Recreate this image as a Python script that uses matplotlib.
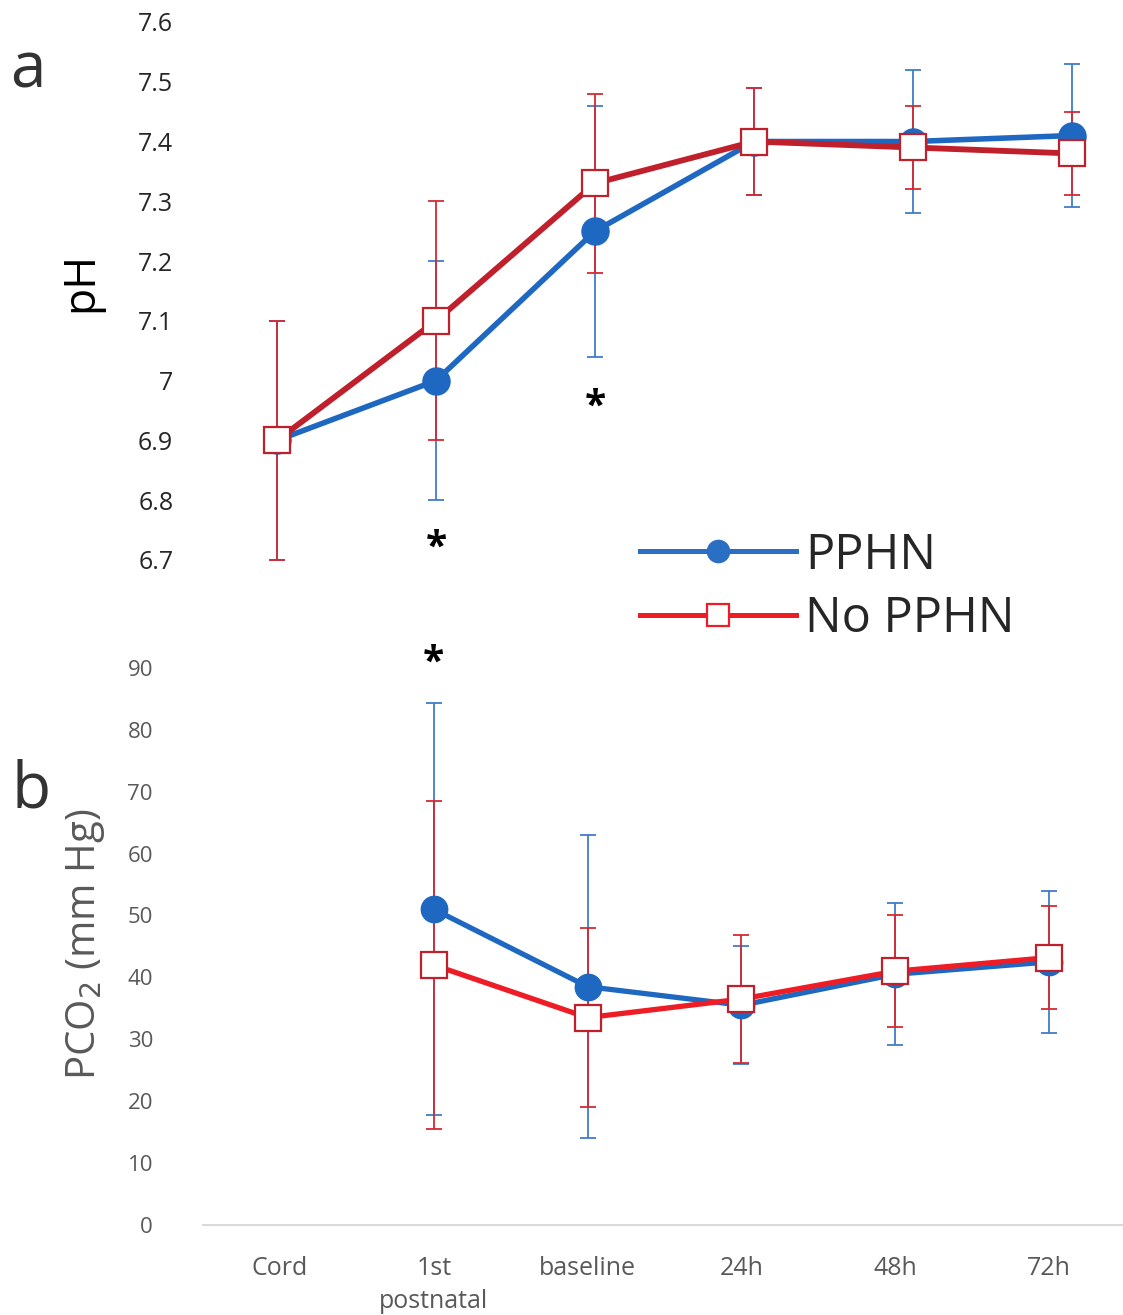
import matplotlib
matplotlib.use("Agg")
import matplotlib.pyplot as plt
from matplotlib.lines import Line2D

plt.rcParams['font.family'] = ['Open Sans', 'DejaVu Sans']

nan = float('nan')

times = ['Cord', '1st\npostnatal', 'baseline', '24h', '48h', '72h']

# panel a: pH, mean and SD
ph_pphn = [6.90, 7.00, 7.25, 7.40, 7.40, 7.41]
ph_pphn_sd = [0.20, 0.20, 0.21, 0.09, 0.12, 0.12]
ph_nopphn = [6.90, 7.10, 7.33, 7.40, 7.39, 7.38]
ph_nopphn_sd = [0.20, 0.20, 0.15, 0.09, 0.07, 0.07]
ph_ticks = [6.7, 6.8, 6.9, 7.0, 7.1, 7.2, 7.3, 7.4, 7.5, 7.6]
ph_ticklabels = ['6.7', '6.8', '6.9', '7', '7.1', '7.2', '7.3', '7.4', '7.5', '7.6']

# panel b: PCO2 (mm Hg), no cord sample
pco2_pphn = [nan, 51.0, 38.5, 35.5, 40.5, 42.5]
pco2_pphn_sd = [nan, 33.3, 24.5, 9.5, 11.5, 11.5]
pco2_nopphn = [nan, 42.0, 33.5, 36.5, 41.0, 43.2]
pco2_nopphn_sd = [nan, 26.5, 14.5, 10.3, 9.0, 8.3]
pco2_ticks = [0, 10, 20, 30, 40, 50, 60, 70, 80, 90]

# significance marks (time index, value)
sig_ph = [(1, 6.72), (2, 6.955)]
sig_pco2 = [(1, 90.8)]

blue = '#1f68c2'
blue_err = '#3f7cc9'
red_dark = '#c0202b'
red = '#ee1c25'
red_err = '#d42a33'

W, H = 1123, 1315
fig = plt.figure(figsize=(W / 100, H / 100), dpi=100)

def rect(l, t, r, b):
    return [l / W, 1 - b / H, (r - l) / W, (b - t) / H]

x = list(range(len(times)))

# ---- panel a
ax1 = fig.add_axes(rect(190, 10, 1123, 580))
ax1.errorbar(x, ph_pphn, yerr=ph_pphn_sd, fmt='none', ecolor=blue_err,
             elinewidth=1.3, capsize=6, capthick=1.3, zorder=1)
ax1.errorbar(x, ph_nopphn, yerr=ph_nopphn_sd, fmt='none', ecolor=red_err,
             elinewidth=1.3, capsize=6, capthick=1.3, zorder=1)
ax1.plot(x, ph_pphn, color=blue, lw=4, marker='o', ms=19.5, zorder=2)
ax1.plot(x, ph_nopphn, color=red_dark, lw=4.2, marker='s', ms=19,
         mfc='white', mec=red_dark, mew=1.6, zorder=3)
ax1.set_xlim(-0.547, 5.321)
ax1.set_ylim(6.6665, 7.620)
ax1.set_yticks(ph_ticks)
ax1.set_yticklabels(ph_ticklabels)
ax1.set_xticks([])
ax1.tick_params(axis='y', length=0, pad=12, labelsize=18, labelcolor='#262626')
for s in ax1.spines.values():
    s.set_visible(False)
ax1.set_ylabel('pH', fontsize=32, color='black')
ax1.yaxis.set_label_coords(-0.093, 0.523)
for i, v in sig_ph:
    ax1.text(i, v, '*', fontsize=28, fontweight='bold', ha='center', va='center')

# ---- panel b
ax2 = fig.add_axes(rect(203, 640, 1123, 1225))
ax2.errorbar(x, pco2_pphn, yerr=pco2_pphn_sd, fmt='none', ecolor=blue_err,
             elinewidth=1.3, capsize=6, capthick=1.3, zorder=1)
ax2.errorbar(x, pco2_nopphn, yerr=pco2_nopphn_sd, fmt='none', ecolor=red_err,
             elinewidth=1.3, capsize=6, capthick=1.3, zorder=1)
ax2.plot(x, pco2_pphn, color=blue, lw=3.8, marker='o', ms=19, zorder=2)
ax2.plot(x, pco2_nopphn, color=red, lw=3.8, marker='s', ms=18.5,
         mfc='white', mec=red_dark, mew=1.6, zorder=3)
ax2.set_xlim(-0.5, 5.48)
ax2.set_ylim(0, 94.5)
ax2.set_yticks(pco2_ticks)
ax2.set_xticks(x)
ax2.set_xticklabels(times, linespacing=1.45)
ax2.tick_params(axis='y', length=0, pad=36, labelsize=16, labelcolor='#595959')
ax2.tick_params(axis='x', length=0, pad=22, labelsize=18, labelcolor='#595959')
for k in ['top', 'right', 'left']:
    ax2.spines[k].set_visible(False)
ax2.spines['bottom'].set_color('#d9d9d9')
ax2.spines['bottom'].set_linewidth(1.5)
ax2.set_ylabel('PCO$_2$ (mm Hg)', fontsize=29, color='#595959')
ax2.yaxis.set_label_coords(-0.104, 0.479)
for i, v in sig_pco2:
    ax2.text(i, v, '*', fontsize=28, fontweight='bold', ha='center', va='center',
             clip_on=False)

# ---- legend
handles = [
    Line2D([], [], color='#2a6fc4', lw=3.6, marker='o', ms=16),
    Line2D([], [], color=red, lw=3.6, marker='s', ms=16, mfc='white',
           mec=red, mew=1.6),
]
fig.legend(handles, ['PPHN', 'No PPHN'], loc='upper left',
           bbox_to_anchor=(640 / W, 1 - 531 / H), frameon=False, fontsize=35,
           handlelength=3.2, handletextpad=0.2, labelspacing=0.29,
           borderpad=0, borderaxespad=0, labelcolor='#262626')

# ---- panel letters
fig.text(28 / W, 1 - 88 / H, 'a', fontsize=46, color='#333333', ha='center',
         va='baseline')
fig.text(31 / W, 1 - 808 / H, 'b', fontsize=46, color='#333333', ha='center',
         va='baseline')

fig.savefig('out.png', dpi=100)
